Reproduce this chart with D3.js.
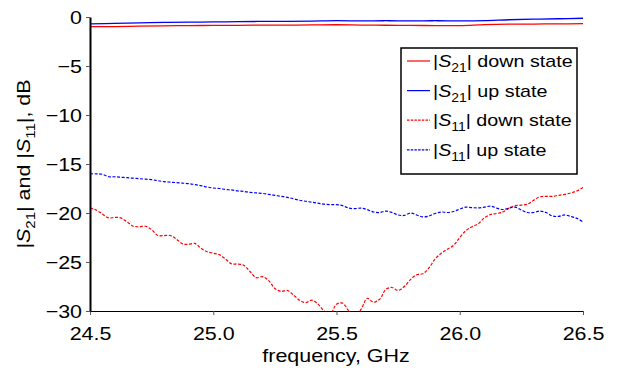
<!DOCTYPE html>
<html>
<head>
  <meta charset="utf-8">
  <title>S-parameters</title>
  <script src="https://d3js.org/d3.v7.min.js"></script>
  <style>
    body { margin: 0; background: #fff; }
    text { font-family: "Liberation Sans", Arial, sans-serif; fill: #000; }
  </style>
</head>
<body>
  <div id="chart"></div>
  <script>
    // frequency grid, GHz
    const freqS21 = [24.5, 24.6, 24.7, 24.8, 24.9, 25.0, 25.1, 25.2, 25.3, 25.4, 25.5,
      25.6, 25.7, 25.8, 25.9, 26.0, 26.1, 26.2, 26.3, 26.4, 26.5];
    const freqS11 = [24.5, 24.525, 24.55, 24.575, 24.6, 24.625, 24.65, 24.675, 24.7, 24.725,
      24.75, 24.775, 24.8, 24.825, 24.85, 24.875, 24.9, 24.925, 24.95, 24.975,
      25.0, 25.025, 25.05, 25.075, 25.1, 25.125, 25.15, 25.175, 25.2, 25.225,
      25.25, 25.275, 25.3, 25.325, 25.35, 25.375, 25.4, 25.425, 25.45, 25.475,
      25.5, 25.525, 25.55, 25.575, 25.6, 25.625, 25.65, 25.675, 25.7, 25.725,
      25.75, 25.775, 25.8, 25.825, 25.85, 25.875, 25.9, 25.925, 25.95, 25.975,
      26.0, 26.025, 26.05, 26.075, 26.1, 26.125, 26.15, 26.175, 26.2, 26.225,
      26.25, 26.275, 26.3, 26.325, 26.35, 26.375, 26.4, 26.425, 26.45, 26.475, 26.5];

    // |S21|, dB
    const s21Down = [-0.99, -0.98, -0.93, -0.9, -0.88, -0.86, -0.85, -0.83, -0.83, -0.81, -0.79,
      -0.82, -0.84, -0.86, -0.87, -0.87, -0.78, -0.73, -0.72, -0.7, -0.68];
    const s21Up = [-0.71, -0.66, -0.6, -0.55, -0.53, -0.5, -0.48, -0.45, -0.44, -0.42, -0.38,
      -0.4, -0.38, -0.4, -0.38, -0.4, -0.38, -0.28, -0.22, -0.18, -0.13];

    // |S11|, dB
    const s11Down = [-19.5, -19.7, -20.1, -20.5, -20.45, -20.5, -20.9, -21.35, -21.4, -21.35,
      -21.7, -22.3, -22.3, -22.3, -22.65, -23.15, -23.2, -23.1, -23.6, -23.95,
      -24.1, -24.25, -24.7, -25.2, -25.2, -25.35, -26.0, -26.6, -26.5, -26.9,
      -27.7, -28.0, -27.9, -28.35, -28.9, -29.15, -28.9, -29.3, -30.0, -30.3,
      -29.3, -29.2, -30.0, -30.5, -29.8, -28.7, -29.1, -28.8, -27.8, -27.6,
      -27.9, -27.5, -26.8, -26.3, -26.2, -25.6, -24.7, -24.1, -23.7, -23.3,
      -22.5, -21.8, -21.4, -21.1, -20.5, -20.15, -20.05, -19.9, -19.5, -19.25,
      -19.2, -19.1, -18.7, -18.35, -18.3, -18.3, -18.2, -18.1, -17.95, -17.75, -17.4];
    const s11Up = [-16.0, -16.0, -16.05, -16.3, -16.3, -16.35, -16.4, -16.45, -16.5, -16.55,
      -16.6, -16.7, -16.8, -16.85, -16.9, -16.95, -17.0, -17.1, -17.2, -17.35,
      -17.45, -17.5, -17.6, -17.65, -17.75, -17.8, -17.9, -17.95, -18.0, -18.1,
      -18.2, -18.3, -18.4, -18.55, -18.7, -18.8, -18.9, -19.0, -19.1, -19.15,
      -19.15, -19.25, -19.5, -19.55, -19.5, -19.65, -19.9, -19.95, -19.8, -19.95,
      -20.2, -20.25, -20.0, -20.2, -20.4, -20.3, -20.05, -19.9, -19.95, -19.85,
      -19.6, -19.4, -19.45, -19.48, -19.4, -19.3, -19.5, -19.65, -19.5, -19.4,
      -19.7, -19.95, -19.95, -19.8, -19.95, -20.3, -20.35, -20.2, -20.35, -20.55, -20.9];

    const xTicks = [24.5, 25.0, 25.5, 26.0, 26.5];
    const yTicks = [0, -5, -10, -15, -20, -25, -30];

    const series = [
      { sub: "21", label: " down state", freq: freqS21, values: s21Down, color: "#ff0000", dash: null },
      { sub: "21", label: " up state", freq: freqS21, values: s21Up, color: "#0000ff", dash: null },
      { sub: "11", label: " down state", freq: freqS11, values: s11Down, color: "#ff0000", dash: "3,1.6" },
      { sub: "11", label: " up state", freq: freqS11, values: s11Up, color: "#0000ff", dash: "3,1.6" }
    ];

    const width = 620, height = 374;
    const sx = 1.16; // horizontal stretch of the lettering
    const svg = d3.select("#chart").append("svg")
      .attr("width", width)
      .attr("height", height);

    const x = d3.scaleLinear().domain([24.5, 26.5]).range([90, 583]);
    const y = d3.scaleLinear().domain([-30, 0]).range([311, 17]);

    svg.append("clipPath").attr("id", "plot")
      .append("rect")
      .attr("x", 90).attr("y", 0)
      .attr("width", 494).attr("height", 311);

    // curves
    const line = d3.line()
      .x(d => x(d[0]))
      .y(d => y(d[1]))
      .curve(d3.curveCatmullRom);

    svg.append("g").attr("clip-path", "url(#plot)")
      .selectAll("path")
      .data(series)
      .enter()
      .append("path")
      .attr("fill", "none")
      .attr("stroke", d => d.color)
      .attr("stroke-width", d => d.dash ? 1.2 : 1.3)
      .attr("stroke-dasharray", d => d.dash)
      .attr("d", d => line(d.freq.map((f, i) => [f, d.values[i]])));

    // x axis
    const xAxis = svg.append("g")
      .attr("transform", "translate(0,311)")
      .call(d3.axisBottom(x).tickValues(xTicks).tickFormat(d3.format(".1f")).tickSize(4).tickSizeOuter(0));
    xAxis.select(".domain").attr("stroke", "#000").attr("stroke-width", 1.2);
    xAxis.selectAll(".tick line").attr("stroke", "#555");
    xAxis.selectAll(".tick text")
      .attr("font-size", 18.5)
      .attr("y", 29).attr("dy", 0)
      .attr("transform", `scale(${sx},1)`);

    // y axis
    const yAxis = svg.append("g")
      .attr("transform", "translate(90,0)")
      .call(d3.axisLeft(y).tickValues(yTicks).tickFormat(d3.format("d")).tickSize(4).tickSizeOuter(0));
    yAxis.select(".domain").attr("stroke", "#000").attr("stroke-width", 2);
    yAxis.selectAll(".tick line").attr("stroke", "#555");
    yAxis.selectAll(".tick text")
      .attr("font-size", 18.5)
      .attr("x", -8 / sx).attr("dy", "0.36em")
      .attr("transform", `scale(${sx},1)`);

    // axis titles
    svg.append("text")
      .attr("transform", `translate(336,362) scale(${sx},1)`)
      .attr("text-anchor", "middle")
      .attr("font-size", 18.5)
      .text("frequency, GHz");

    const yTitle = svg.append("text")
      .attr("transform", `translate(30,164) rotate(-90) scale(${sx},1)`)
      .attr("text-anchor", "middle")
      .attr("font-size", 18.5);
    yTitle.append("tspan").text("|");
    yTitle.append("tspan").attr("font-style", "italic").text("S");
    yTitle.append("tspan").attr("font-size", 13).attr("dy", 5).text("21");
    yTitle.append("tspan").attr("dy", -5).text("| and |");
    yTitle.append("tspan").attr("font-style", "italic").text("S");
    yTitle.append("tspan").attr("font-size", 13).attr("dy", 5).text("11");
    yTitle.append("tspan").attr("dy", -5).text("|, dB");

    // legend
    const legend = svg.append("g").attr("transform", "translate(401,48)");
    legend.append("rect")
      .attr("width", 176).attr("height", 126)
      .attr("fill", "#fff").attr("stroke", "#000").attr("stroke-width", 1.5);

    const rows = legend.selectAll(".row")
      .data(series)
      .enter()
      .append("g")
      .attr("class", "row")
      .attr("transform", (d, i) => `translate(0,${13 + i * 29.6})`);

    rows.append("line")
      .attr("x1", 6).attr("x2", 29)
      .attr("stroke", d => d.color)
      .attr("stroke-width", 1.2)
      .attr("stroke-dasharray", d => d.dash ? "2.5,1.2" : null);

    const lt = rows.append("text")
      .attr("transform", `translate(32,0) scale(${sx},1)`)
      .attr("font-size", 17)
      .attr("dy", "0.36em");
    lt.append("tspan").text("|");
    lt.append("tspan").attr("font-style", "italic").text("S");
    lt.append("tspan").attr("font-size", 12).attr("dy", 5).text(d => d.sub);
    lt.append("tspan").attr("dy", -5).text(d => "|" + d.label);
  </script>
</body>
</html>
